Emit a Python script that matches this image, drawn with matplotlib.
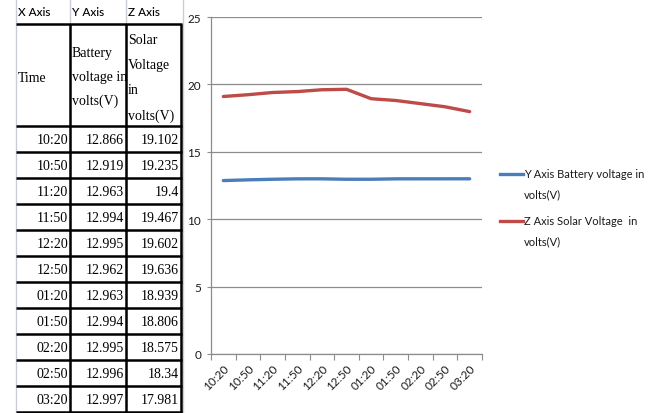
import matplotlib
matplotlib.use("Agg")
import matplotlib.pyplot as plt
from matplotlib.lines import Line2D

# Readings
times = ["10:20", "10:50", "11:20", "11:50", "12:20", "12:50",
         "01:20", "01:50", "02:20", "02:50", "03:20"]
battery_v = [12.866, 12.919, 12.963, 12.994, 12.995, 12.962,
             12.963, 12.994, 12.995, 12.996, 12.997]
solar_v = [19.102, 19.235, 19.4, 19.467, 19.602, 19.636,
           18.939, 18.806, 18.575, 18.34, 17.981]
battery_txt = ["12.866", "12.919", "12.963", "12.994", "12.995", "12.962",
               "12.963", "12.994", "12.995", "12.996", "12.997"]
solar_txt = ["19.102", "19.235", "19.4", "19.467", "19.602", "19.636",
             "18.939", "18.806", "18.575", "18.34", "17.981"]

axis_names = ["X Axis", "Y Axis", "Z Axis"]
col_headers = [["Time"], ["Battery", "voltage in", "volts(V)"],
               ["Solar", "Voltage", "in", "volts(V)"]]
legend_labels = [["Y Axis Battery voltage in", "volts(V)"],
                 ["Z Axis Solar Voltage  in", "volts(V)"]]
y_ticks = [0, 5, 10, 15, 20, 25]

BLUE = "#4A7EBB"
RED = "#BE4B48"
GRID = "#8C8C8C"
TXT = "#1A1A1A"
SANS = ["Lato", "DejaVu Sans"]
SERIF = ["Liberation Serif", "DejaVu Serif"]

W, H = 649, 414
fig = plt.figure(figsize=(W / 100, H / 100), dpi=100)

# Overlay in pixel coordinates for the table and legend
ov = fig.add_axes([0, 0, 1, 1])
ov.set_xlim(0, W)
ov.set_ylim(H, 0)
ov.axis("off")

# ---- table ----
col_x = [16, 70, 126, 182]
head_top, head_bot = 25, 127
row_h = 26
n = len(times)

# light spreadsheet gridlines
for x in [16, 70, 126, 183]:
    ov.plot([x, x], [0, H], color="#C8CDD6", lw=1.0, zorder=1)

for i, name in enumerate(axis_names):
    ov.text(col_x[i] + 2, 13, name, family=SANS, fontsize=8.5,
            fontweight="medium", ha="left", va="center", color="black",
            zorder=3)

# thick cell borders
bk = dict(color="black", lw=1.8, zorder=2, solid_capstyle="butt")
ov.plot([16, 182], [head_top, head_top], **bk)
for r in range(n + 1):
    y = head_bot + r * row_h
    ov.plot([16, 182], [y, y], **bk)
for x in [70, 126, 181]:
    ov.plot([x, x], [head_top, H], **bk)

# column headers
ov.text(col_x[0] + 2, 78, col_headers[0][0], family=SERIF, fontsize=10,
        ha="left", va="center", zorder=3)
for j, line in enumerate(col_headers[1]):
    ov.text(col_x[1] + 2, 53 + j * 24, line, family=SERIF, fontsize=10,
            ha="left", va="center", zorder=3)
for j, line in enumerate(col_headers[2]):
    ov.text(col_x[2] + 2, 40 + j * 25.5, line, family=SERIF, fontsize=10,
            ha="left", va="center", zorder=3)

# data cells (right aligned)
for r in range(n):
    yc = head_bot + r * row_h + row_h / 2 + 1
    for txt, xr in [(times[r], 68), (battery_txt[r], 124), (solar_txt[r], 179)]:
        ov.text(xr, yc, txt, family=SERIF, fontsize=10, ha="right",
                va="center", zorder=3)

# ---- chart ----
x0, x1, yt, yb = 211, 482, 18, 355
ax = fig.add_axes([x0 / W, (H - yb) / H, (x1 - x0) / W, (yb - yt) / H])
xs = list(range(n))
ax.plot(xs, battery_v, color=BLUE, lw=2.4, solid_capstyle="round", zorder=3)
ax.plot(xs, solar_v, color=RED, lw=2.4, solid_capstyle="round", zorder=3)

ax.set_xlim(-0.5, n - 0.5)
ax.set_ylim(0, 25)
ax.set_yticks(y_ticks)
ax.set_yticklabels([str(v) for v in y_ticks], family=SANS, fontsize=8.5,
                   color=TXT)
ax.yaxis.grid(True, color=GRID, lw=0.9)
ax.set_axisbelow(True)

ax.set_xticks([i - 0.5 for i in range(n + 1)])
ax.set_xticklabels([])
ax.set_xticks(xs, minor=True)
ax.set_xticklabels(times, minor=True, rotation=45, ha="right", va="top",
                   rotation_mode="anchor", family=SANS, fontsize=8.5,
                   color=TXT)
ax.tick_params(axis="x", which="minor", length=0, pad=6)
ax.tick_params(axis="x", which="major", length=4, color=GRID, direction="out")
ax.tick_params(axis="y", length=3, color=GRID, direction="out", pad=4)

for s in ["top", "right"]:
    ax.spines[s].set_visible(False)
for s in ["left", "bottom"]:
    ax.spines[s].set_color(GRID)
    ax.spines[s].set_linewidth(0.9)

# ---- legend ----
for k, (lab, col) in enumerate(zip(legend_labels, [BLUE, RED])):
    yk = 175 + k * 47
    ov.add_line(Line2D([500, 523], [yk, yk], color=col, lw=2.4, zorder=3))
    ov.text(524, yk, lab[0], family=SANS, fontsize=8, ha="left",
            va="center", color=TXT, zorder=3)
    ov.text(524, yk + 20, lab[1], family=SANS, fontsize=8, ha="left",
            va="center", color=TXT, zorder=3)

fig.savefig("out.png", dpi=100)
